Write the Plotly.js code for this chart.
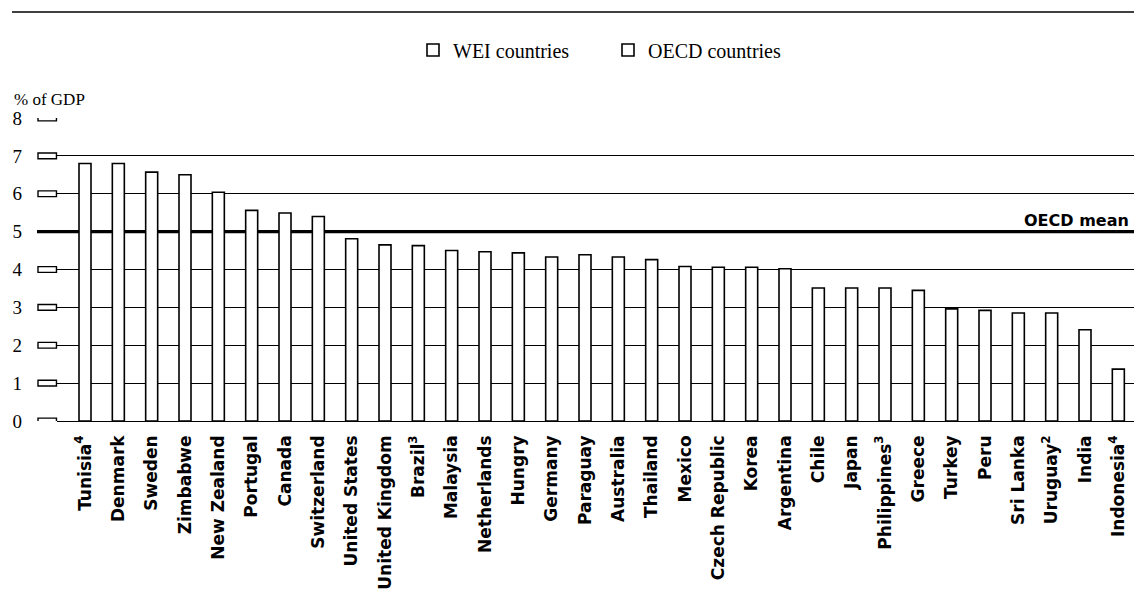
<!DOCTYPE html>
<html>
<head>
<meta charset="utf-8">
<script src="https://cdn.plot.ly/plotly-3.0.1.min.js"></script>
<style>
html,body{margin:0;padding:0;background:#fff;}
#chart{width:1134px;height:601px;}
</style>
</head>
<body>
<div id="chart"></div>
<script>
const countries = ["Tunisia<sup>4</sup>","Denmark","Sweden","Zimbabwe","New Zealand","Portugal","Canada","Switzerland","United States","United Kingdom","Brazil<sup>3</sup>","Malaysia","Netherlands","Hungry","Germany","Paraguay","Australia","Thailand","Mexico","Czech Republic","Korea","Argentina","Chile","Japan","Philippines<sup>3</sup>","Greece","Turkey","Peru","Sri Lanka","Uruguay<sup>2</sup>","India","Indonesia<sup>4</sup>"];
const spending = [6.8,6.8,6.57,6.5,6.04,5.56,5.49,5.4,4.81,4.65,4.63,4.5,4.47,4.44,4.33,4.39,4.33,4.26,4.08,4.06,4.06,4.02,3.51,3.51,3.51,3.45,2.96,2.92,2.85,2.85,2.41,1.37];
const group = ["WEI","OECD","OECD","WEI","OECD","OECD","OECD","OECD","OECD","OECD","WEI","WEI","OECD","OECD","OECD","WEI","OECD","WEI","OECD","OECD","OECD","WEI","WEI","OECD","WEI","OECD","OECD","WEI","WEI","WEI","WEI","WEI"];
const oecdMean = 5;
const yTicks = [0,1,2,3,4,5,6,7,8];

function pick(g){
  const x=[],y=[];
  countries.forEach((c,i)=>{ if(group[i]===g){x.push(c);y.push(spending[i]);} });
  return {x,y};
}
const w = pick("WEI"), o = pick("OECD");
const barStyle = {color:"#ffffff", line:{color:"#000000", width:1.6}};
const traces = [
  {type:"bar", name:"WEI countries", x:w.x, y:w.y, width:0.36, marker:barStyle, hoverinfo:"x+y"},
  {type:"bar", name:"OECD countries", x:o.x, y:o.y, width:0.36, marker:barStyle, hoverinfo:"x+y"}
];

const plotW = 1077, plotH = 303, left = 57;
const shapes = [];
// tick boxes on the y axis
yTicks.forEach(v=>{
  if (v === oecdMean) return;
  shapes.push({type:"rect", xref:"paper", yref:"y", x0:-(57-38)/plotW, x1:-0.0005, y0:v-0.075, y1:v+0.075,
    line:{color:"#000", width:1.4}, fillcolor:"#fff", layer:"above"});
});
// OECD mean line
shapes.push({type:"line", xref:"paper", yref:"y", x0:-(57-37)/plotW, x1:1.01, y0:oecdMean, y1:oecdMean,
  line:{color:"#000", width:3.2}, layer:"below"});
// top rule
shapes.push({type:"line", xref:"paper", yref:"paper", x0:(12-left)/plotW, x1:1.01, y0:(421-12)/plotH, y1:(421-12)/plotH,
  line:{color:"#000", width:1.3}});

const layout = {
  width:1134, height:601,
  margin:{l:57, r:0, t:118, b:180, pad:0},
  paper_bgcolor:"#fff", plot_bgcolor:"#fff",
  barmode:"overlay",
  showlegend:true,
  legend:{orientation:"h", x:(413-left)/plotW, xanchor:"left", y:(421-50)/plotH, yanchor:"middle",
    font:{family:"Liberation Serif, serif", size:20, color:"#000"}, entrywidth:150, itemwidth:30,
    bgcolor:"rgba(0,0,0,0)"},
  xaxis:{type:"category", categoryorder:"array", categoryarray:countries, range:[-0.84,31.47],
    showgrid:false, showline:false, zeroline:false, ticks:"",
    tickangle:-90, ticklabelstandoff:10,
    tickfont:{family:"DejaVu Sans, sans-serif", size:17, color:"#000", weight:"bold"}, fixedrange:true},
  yaxis:{range:[0,8], tickvals:yTicks, showgrid:true, gridcolor:"#000", gridwidth:1.2,
    zeroline:true, zerolinecolor:"#000", zerolinewidth:1.2, showline:false, ticks:"",
    ticklabelstandoff:34,
    tickfont:{family:"Liberation Serif, serif", size:19, color:"#000"}, fixedrange:true},
  shapes:shapes,
  annotations:[
    {text:"% of GDP", xref:"paper", yref:"paper", x:(12-left)/plotW, y:(421-99)/plotH, xanchor:"left", yanchor:"middle",
      showarrow:false, font:{family:"Liberation Serif, serif", size:17, color:"#000"}},
    {text:"OECD mean", xref:"paper", yref:"y", x:1-3/plotW, y:oecdMean, yshift:11, xanchor:"right", yanchor:"middle",
      showarrow:false, font:{family:"DejaVu Sans, sans-serif", size:16, color:"#000", weight:"bold"}}
  ]
};
Plotly.newPlot("chart", traces, layout, {displayModeBar:false});
</script>
</body>
</html>
